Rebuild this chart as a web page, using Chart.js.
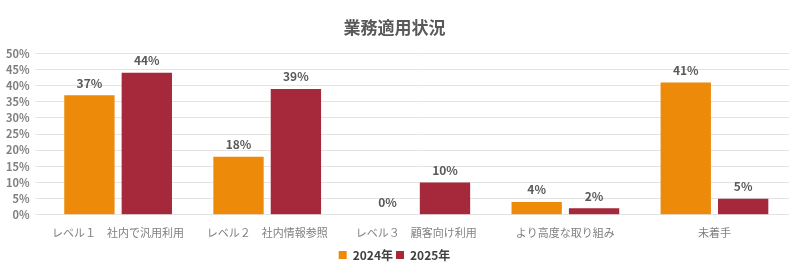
<!DOCTYPE html>
<html lang="ja">
<head>
<meta charset="utf-8">
<script src="https://cdn.jsdelivr.net/npm/chart.js@4"></script>
<style>
	html, body { margin: 0; padding: 0; background: #fff; }
	#wrap { width: 800px; height: 267px; position: relative; }
</style>
</head>
<body>
<div id="wrap"><canvas id="myChart"></canvas></div>
<script>
const categories = [
	'レベル１　社内で汎用利用',
	'レベル２　社内情報参照',
	'レベル３　顧客向け利用',
	'より高度な取り組み',
	'未着手'
];
const seriesNames = ['2024年', '2025年'];
const values2024 = [37, 18, 0, 4, 41];
const values2025 = [44, 39, 10, 2, 5];

(() => {
	'use strict'

	const font = "'Noto Sans CJK JP', 'Noto Sans', sans-serif";

	// draw value labels above bars
	const valueLabels = {
		id: 'valueLabels',
		afterDatasetsDraw(chart) {
			const ctx = chart.ctx;
			ctx.save();
			ctx.font = 'bold 12px ' + font;
			ctx.fillStyle = '#595959';
			ctx.textAlign = 'center';
			ctx.textBaseline = 'bottom';
			chart.data.datasets.forEach((ds, i) => {
				chart.getDatasetMeta(i).data.forEach((bar, j) => {
					ctx.fillText(ds.data[j] + '%', bar.x, bar.y - 6);
				});
			});
			ctx.restore();
		}
	};

	// nudge the legend a little lower
	const legendShift = {
		id: 'legendShift',
		afterLayout(chart) {
			if (chart.legend) {
				chart.legend.top += 4;
				chart.legend.bottom += 4;
			}
		}
	};

	const ctx = document.getElementById('myChart')
	// eslint-disable-next-line no-unused-vars
	const myChart = new Chart(ctx, {
		type: 'bar',
		data: {
			labels: categories,
			datasets: [{
				label: seriesNames[0],
				data: values2024,
				backgroundColor: '#EE8A0A'
			}, {
				label: seriesNames[1],
				data: values2025,
				backgroundColor: '#A5293A'
			}]
		},
		options: {
			responsive: true,
			maintainAspectRatio: false,
			animation: false,
			categoryPercentage: 0.77,
			barPercentage: 0.877,
			layout: { padding: { left: 0, right: 11, top: 0, bottom: 0 } },
			scales: {
				x: {
					grid: { display: false },
					border: { display: false },
					ticks: { color: '#808080', font: { family: font, size: 11 }, maxRotation: 0, padding: 3 }
				},
				y: {
					min: 0,
					max: 50,
					ticks: {
						stepSize: 5,
						autoSkip: false,
						color: '#7f7f7f',
						padding: 6,
						font: { family: font, size: 11, weight: 'bold' },
						callback: (v) => v + '%'
					},
					grid: { color: '#e3e3e3' },
					border: { display: false }
				}
			},
			plugins: {
				title: {
					display: true,
					text: '業務適用状況',
					color: '#595959',
					font: { family: font, size: 17, weight: 'bold' },
					padding: { top: 17, bottom: 16 }
				},
				legend: {
					position: 'bottom',
					labels: {
						boxWidth: 8,
						boxHeight: 8,
						color: '#404040',
						padding: 3,
						font: { family: font, size: 12, weight: 'bold' }
					}
				},
				tooltip: { enabled: false }
			}
		},
		plugins: [valueLabels, legendShift]
	})
})();
</script>
</body>
</html>
